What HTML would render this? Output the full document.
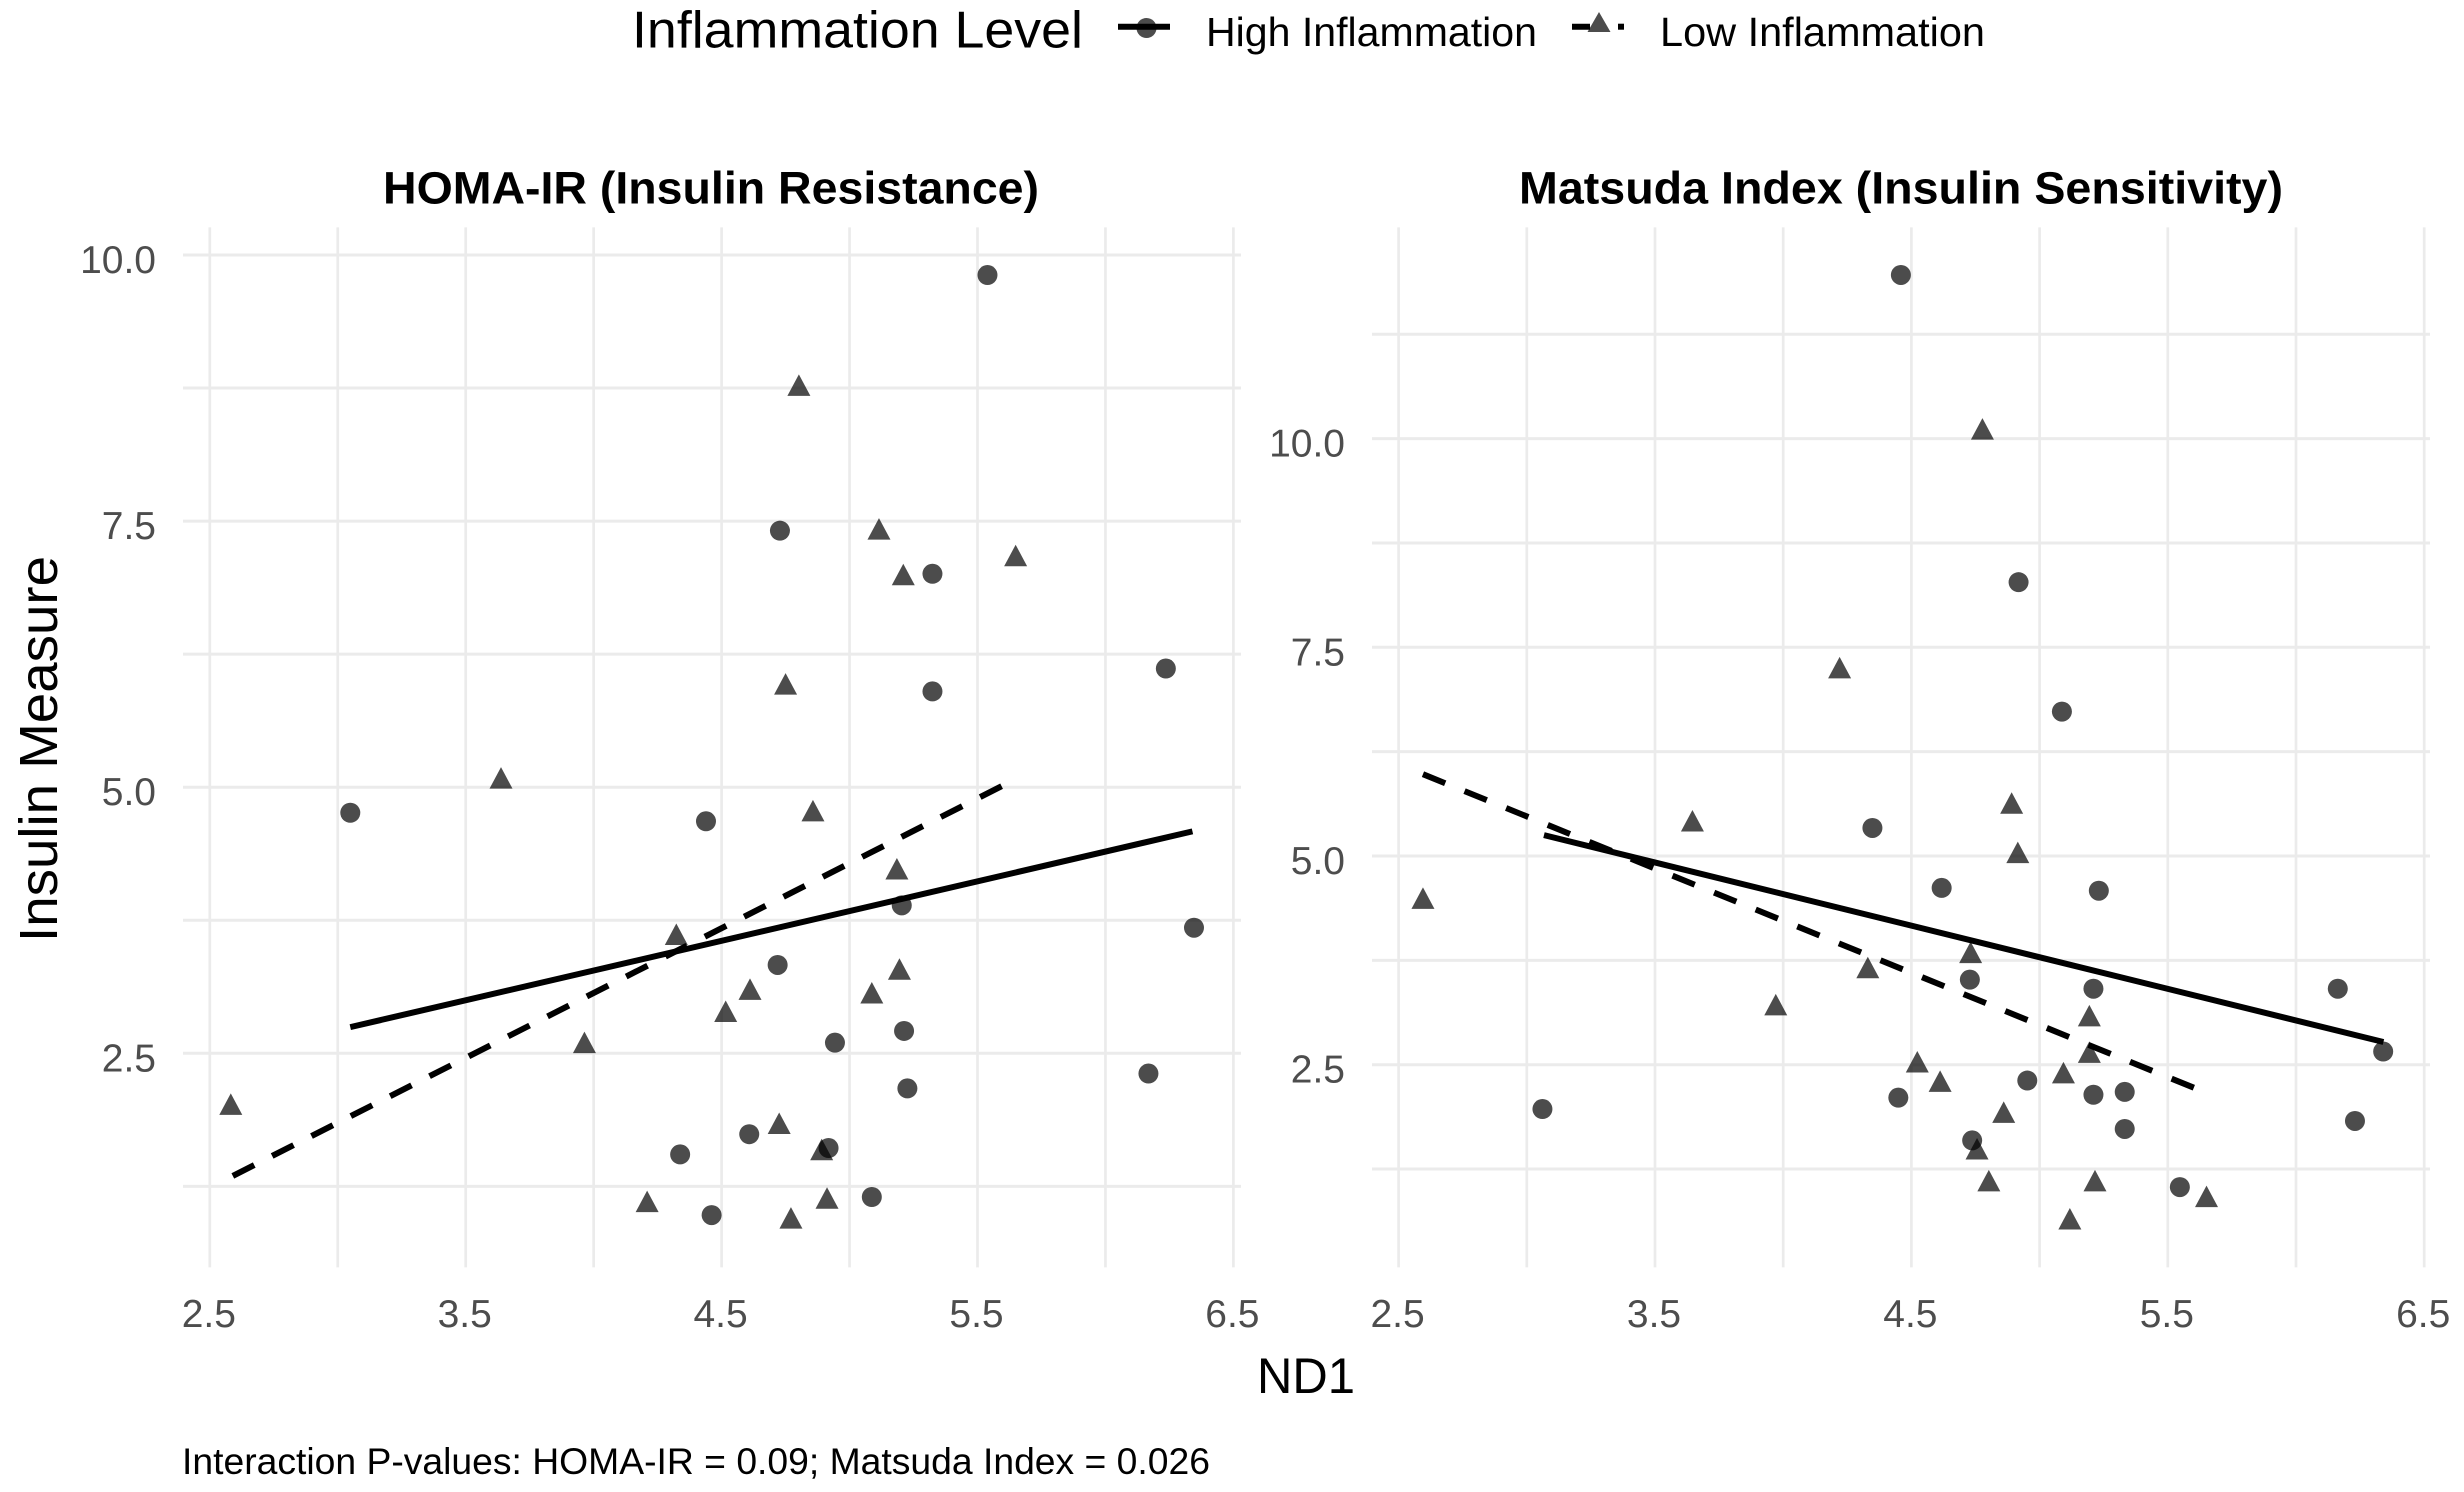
<!DOCTYPE html>
<html lang="en">
<head>
<meta charset="utf-8">
<title>ND1 and Insulin Measures by Inflammation Level</title>
<style>
html,body{margin:0;padding:0;background:#fff;}
svg{display:block;font-family:"Liberation Sans",Arial,sans-serif;}
</style>
</head>
<body>
<svg id="chart" xmlns="http://www.w3.org/2000/svg" width="2464" height="1492" viewBox="0 0 2464 1492">
  <rect x="0" y="0" width="2464" height="1492" fill="#fff"/>
  <g id="plot-left"></g>
  <g id="plot-right"></g>

  <text x="632" y="47.5" font-size="52" fill="#000" textLength="451" lengthAdjust="spacingAndGlyphs">Inflammation Level</text>
  <g>
    <line x1="1118" y1="26.7" x2="1170" y2="26.7" stroke="#000" stroke-width="6"/>
    <circle cx="1146.5" cy="28" r="10" fill="#000" fill-opacity="0.7"/>
    <text x="1206" y="46" font-size="41" fill="#000" textLength="331" lengthAdjust="spacingAndGlyphs">High Inflammation</text>
  </g>
  <g>
    <line x1="1572" y1="26.7" x2="1590" y2="26.7" stroke="#000" stroke-width="6"/>
    <rect x="1618" y="23.7" width="6" height="6" fill="#000"/>
    <polygon points="1599,12 1610.5,32 1587.5,32" fill="#000" fill-opacity="0.7"/>
    <text x="1660" y="46" font-size="41" fill="#000" textLength="325" lengthAdjust="spacingAndGlyphs">Low Inflammation</text>
  </g>

  <text x="383" y="203.6" font-size="45" font-weight="700" fill="#000" textLength="656" lengthAdjust="spacingAndGlyphs">HOMA-IR (Insulin Resistance)</text>
  <text x="1519" y="203.6" font-size="45" font-weight="700" fill="#000" textLength="764" lengthAdjust="spacingAndGlyphs">Matsuda Index (Insulin Sensitivity)</text>

  <text transform="translate(57,942) rotate(-90)" font-size="54" fill="#000" textLength="386" lengthAdjust="spacingAndGlyphs">Insulin Measure</text>
  <text x="1257" y="1393" font-size="50" fill="#000" textLength="98" lengthAdjust="spacingAndGlyphs">ND1</text>
  <text x="182" y="1474" font-size="37" fill="#000" textLength="1028" lengthAdjust="spacingAndGlyphs">Interaction P-values: HOMA-IR = 0.09; Matsuda Index = 0.026</text>
</svg>
<script>
// Shared x axis
const xGridValues = [2.5, 3, 3.5, 4, 4.5, 5, 5.5, 6, 6.5];
const xTickLabels = ['2.5', '3.5', '4.5', '5.5', '6.5'];

// HOMA-IR panel
const homaYMajor = ['2.5', '5.0', '7.5', '10.0'];
const homaYMinor = [1.25, 3.75, 6.25, 8.75];
const homaHighX = [5.539, 4.728, 5.324, 5.324, 6.236, 3.049, 4.439, 5.204, 6.346, 4.719, 5.213, 4.943, 6.168, 5.226, 4.608, 4.338, 4.918, 5.087, 4.461];
const homaHighY = [9.812, 7.41, 7.005, 5.90, 6.115, 4.76, 4.68, 3.89, 3.68, 3.33, 2.71, 2.60, 2.31, 2.17, 1.74, 1.55, 1.61, 1.15, 0.98];
const homaLowX = [4.802, 5.115, 5.210, 5.649, 4.750, 3.638, 4.857, 5.185, 4.323, 5.195, 4.611, 5.087, 4.516, 3.964, 2.582, 4.725, 4.891, 4.912, 4.209, 4.771];
const homaLowY = [8.775, 7.425, 6.996, 7.175, 5.968, 5.085, 4.777, 4.232, 3.616, 3.29, 3.10, 3.067, 2.893, 2.60, 2.02, 1.84, 1.594, 1.138, 1.107, 0.951];
const homaHighFitX = [3.049, 6.34];
const homaHighFitY = [2.746, 4.585];
const homaLowFitX = [2.59, 5.603];
const homaLowFitY = [1.348, 5.02];

// Matsuda panel
const matsudaYMajor = ['2.5', '5.0', '7.5', '10.0'];
const matsudaYMinor = [1.25, 3.75, 6.25, 8.75, 11.25];
const matsudaHighX = [4.459, 4.918, 5.087, 4.348, 4.618, 5.231, 4.728, 5.21, 6.163, 6.34, 4.952, 5.332, 5.21, 4.449, 3.061, 6.23, 5.332, 4.737, 5.547];
const matsudaHighY = [11.96, 8.28, 6.73, 5.336, 4.618, 4.584, 3.519, 3.41, 3.41, 2.658, 2.31, 2.174, 2.14, 2.105, 1.969, 1.826, 1.73, 1.593, 1.034];
const matsudaLowX = [4.777, 4.22, 4.891, 4.915, 3.646, 2.595, 4.731, 4.33, 3.971, 5.194, 5.194, 4.523, 5.093, 4.612, 4.86, 4.756, 4.802, 5.216, 5.651, 5.118];
const matsudaLowY = [10.114, 7.254, 5.632, 5.04, 5.42, 4.493, 3.843, 3.661, 3.217, 3.085, 2.647, 2.533, 2.402, 2.30, 1.929, 1.49, 1.108, 1.108, 0.92, 0.652];
const matsudaHighFitX = [3.067, 6.341];
const matsudaHighFitY = [5.25, 2.772];
const matsudaLowFitX = [2.595, 5.605];
const matsudaLowFitY = [5.98, 2.22];

const NS = 'http://www.w3.org/2000/svg';

function make(parent, tag, props) {
  const el = document.createElementNS(NS, tag);
  for (const k in props) el.setAttribute(k, props[k]);
  parent.appendChild(el);
  return el;
}

function drawPanel(cfg) {
  const g = document.getElementById(cfg.id);
  const x = v => cfg.x0 + (v - 2.5) * cfg.xUnit;
  const y = v => cfg.y10 + (10 - v) * cfg.yUnit;

  cfg.yMinor.forEach(v => {
    const l = make(g, 'line', {x1: cfg.left, x2: cfg.right, y1: y(v), y2: y(v), stroke: '#ebebeb', 'stroke-width': 3});
    
    
  });
  cfg.yMajor.forEach(s => {
    const v = parseFloat(s);
    const l = make(g, 'line', {x1: cfg.left, x2: cfg.right, y1: y(v), y2: y(v), stroke: '#ebebeb', 'stroke-width': 3});
    
    
    const t = make(g, 'text', {x: cfg.left - 27, y: y(v) + 18, 'text-anchor': 'end', 'font-size': 39, fill: '#4d4d4d'});
    t.textContent = s;
    
    
  });
  xGridValues.forEach(v => {
    const l = make(g, 'line', {x1: x(v), x2: x(v), y1: 227.4, y2: 1267.4, stroke: '#ebebeb', 'stroke-width': 2.7});
    
    
  });
  xTickLabels.forEach(s => {
    const t = make(g, 'text', {x: x(parseFloat(s)) - 1, y: 1327, 'text-anchor': 'middle', 'font-size': 39, fill: '#4d4d4d'});
    t.textContent = s;
    
    
  });

  cfg.highX.forEach((v, i) => {
    const c = make(g, 'circle', {cx: x(v), cy: y(cfg.highY[i]), r: 10, fill: '#000', 'fill-opacity': 0.7});
    
    
  });
  cfg.lowX.forEach((v, i) => {
    const px = x(v), py = y(cfg.lowY[i]);
    const points = [[px, py - 11], [px + 11.5, py + 10.5], [px - 11.5, py + 10.5]].map(p => p.join(',')).join(' ');
    const p = make(g, 'polygon', {points: points, fill: '#000', 'fill-opacity': 0.7});
    
    
  });

  const high = make(g, 'line', {x1: x(cfg.highFitX[0]), y1: y(cfg.highFitY[0]), x2: x(cfg.highFitX[1]), y2: y(cfg.highFitY[1]), stroke: '#000', 'stroke-width': 6});
  
  
  const low = make(g, 'line', {x1: x(cfg.lowFitX[0]), y1: y(cfg.lowFitY[0]), x2: x(cfg.lowFitX[1]), y2: y(cfg.lowFitY[1]), stroke: '#000', 'stroke-width': 6, 'stroke-dasharray': cfg.dash});
  
  
}

drawPanel({
  id: 'plot-left', left: 183, right: 1241, x0: 209.8, xUnit: 255.9, y10: 255, yUnit: 106.44, dash: '24 20.1',
  yMajor: homaYMajor, yMinor: homaYMinor,
  highX: homaHighX, highY: homaHighY, lowX: homaLowX, lowY: homaLowY,
  highFitX: homaHighFitX, highFitY: homaHighFitY, lowFitX: homaLowFitX, lowFitY: homaLowFitY
});
drawPanel({
  id: 'plot-right', left: 1372, right: 2430, x0: 1398.6, xUnit: 256.4, y10: 438.6, yUnit: 83.48, dash: '24 20.9',
  yMajor: matsudaYMajor, yMinor: matsudaYMinor,
  highX: matsudaHighX, highY: matsudaHighY, lowX: matsudaLowX, lowY: matsudaLowY,
  highFitX: matsudaHighFitX, highFitY: matsudaHighFitY, lowFitX: matsudaLowFitX, lowFitY: matsudaLowFitY
});
</script>
</body>
</html>
